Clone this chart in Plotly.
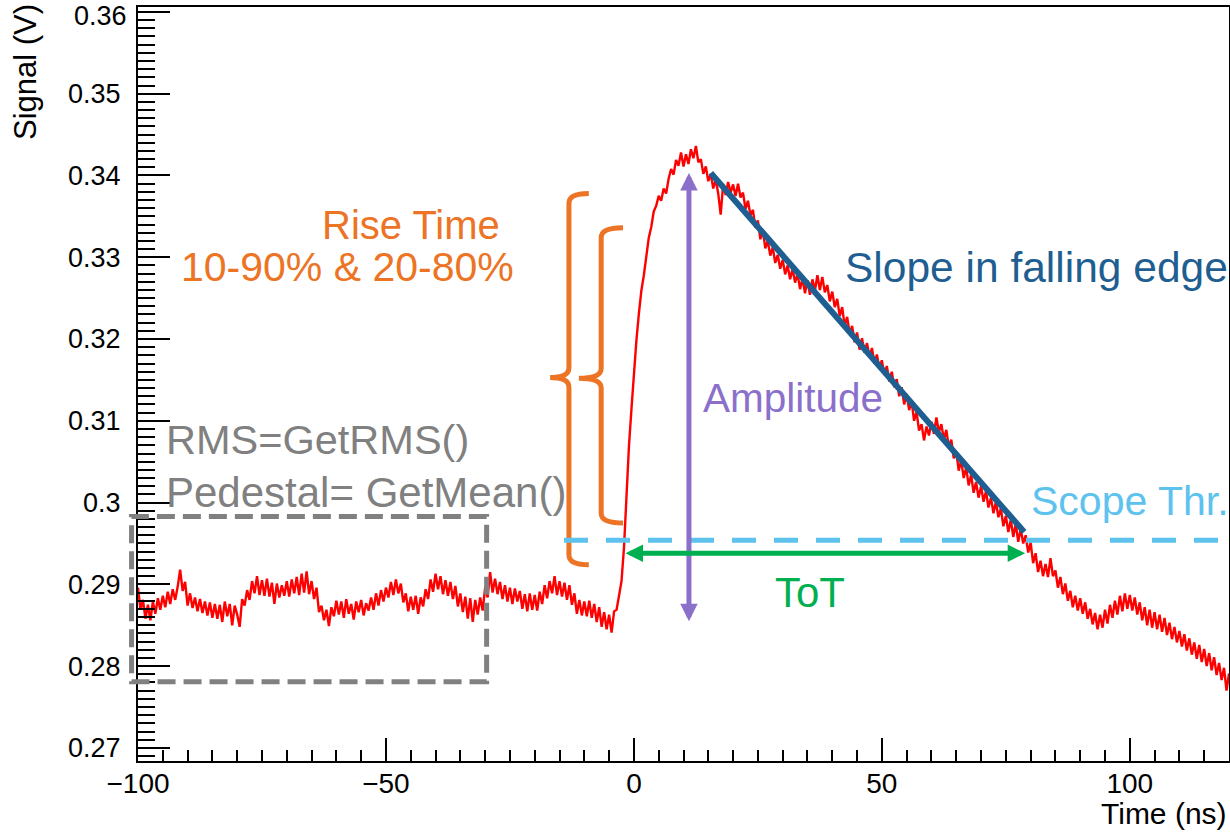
import numpy as np
import plotly.graph_objects as go

# ---------------- data ----------------
time_start_ns = -100.0
time_step_ns = 0.5
signal_mv = [
    289.6, 286.9, 288.1, 285.8, 287.5, 285.6, 287.9, 286.4, 288.3, 286.9, 288.6, 287.2, 289.1, 287.6, 289.4, 288.1, 289.7, 291.8, 289.2, 290.3,
    287.4, 288.9, 287.1, 288.4, 286.7, 288.2, 286.5, 287.9, 286.2, 287.8, 285.9, 287.6, 285.8, 287.5, 285.4, 287.9, 286.1, 287.6, 285.0, 287.4,
    286.3, 284.8, 288.2, 287.4, 289.3, 288.1, 290.4, 288.9, 291.0, 288.7, 290.5, 288.6, 290.7, 288.5, 290.2, 287.6, 290.1, 288.4, 289.9, 288.6,
    290.4, 288.5, 290.6, 288.9, 290.9, 288.7, 291.3, 289.0, 291.6, 288.8, 290.4, 288.2, 289.6, 286.6, 287.4, 285.6, 286.9, 284.9, 287.2, 286.1,
    288.0, 286.3, 287.9, 285.9, 288.2, 286.4, 287.6, 285.7, 287.9, 286.6, 288.1, 286.2, 287.7, 286.8, 288.4, 286.9, 288.9, 287.4, 289.3, 287.9,
    289.6, 288.4, 290.3, 288.7, 290.6, 288.9, 290.1, 287.8, 288.9, 286.7, 288.5, 286.9, 288.6, 286.4, 288.4, 287.3, 289.4, 288.2, 290.6, 289.1,
    291.3, 289.4, 291.0, 288.8, 290.5, 288.6, 290.3, 288.2, 289.8, 287.3, 288.9, 286.6, 288.5, 285.8, 288.3, 285.4, 288.1, 286.3, 288.4, 286.8,
    289.6, 288.4, 291.5, 289.0, 290.7, 288.8, 290.3, 288.2, 289.9, 287.9, 289.6, 287.6, 289.5, 287.9, 289.2, 287.0, 288.8, 286.7, 288.9, 286.9,
    288.7, 286.8, 289.1, 287.6, 289.9, 288.3, 290.4, 288.9, 291.0, 288.7, 290.4, 288.5, 290.2, 288.1, 289.9, 287.5, 288.9, 286.4, 288.1, 286.2,
    287.9, 286.1, 288.0, 285.9, 287.6, 285.4, 287.2, 284.8, 286.6, 284.5, 286.3, 284.1, 286.7, 286.9, 288.6, 290.4, 294.5, 301.3, 306.9, 311.4,
    316.0, 319.8, 323.1, 325.9, 327.8, 329.9, 332.4, 333.7, 335.6, 336.3, 337.5, 336.9, 338.4, 337.8, 339.6, 340.8, 340.1, 341.9, 341.2, 342.8,
    341.1, 342.6, 341.4, 343.2, 342.1, 343.6, 341.6, 342.0, 340.2, 341.1, 339.3, 340.2, 338.4, 339.5, 337.8, 335.2, 338.9, 337.6, 339.2, 337.9,
    338.9, 337.5, 339.0, 337.3, 337.9, 335.9, 336.9, 335.1, 335.8, 333.6, 334.5, 332.2, 333.3, 331.1, 332.0, 330.2, 331.2, 329.3, 330.3, 328.6,
    329.7, 327.9, 329.0, 327.3, 328.6, 326.9, 328.0, 326.1, 327.4, 325.6, 327.2, 325.4, 327.3, 325.9, 327.8, 326.0, 327.6, 325.7, 326.6, 324.6,
    325.8, 323.9, 324.9, 322.8, 323.9, 321.6, 322.7, 320.7, 321.6, 319.6, 320.8, 318.7, 320.1, 318.3, 319.5, 317.8, 318.9, 317.0, 318.1, 316.4,
    317.4, 315.6, 316.7, 314.8, 316.0, 314.1, 315.1, 313.0, 314.1, 312.0, 313.3, 311.3, 312.4, 310.0, 311.1, 308.8, 309.6, 307.6, 309.3, 308.2,
    309.9, 308.4, 310.4, 308.6, 309.6, 307.7, 308.9, 306.8, 307.7, 305.4, 306.2, 303.9, 305.2, 303.0, 304.3, 302.1, 303.4, 301.2, 302.5, 300.6,
    302.0, 300.1, 301.4, 299.4, 300.6, 298.7, 300.1, 298.2, 299.3, 297.1, 298.4, 296.4, 297.9, 295.8, 297.4, 295.2, 296.8, 295.0, 296.0, 293.9,
    295.1, 292.6, 293.8, 291.5, 292.9, 291.0, 292.5, 290.9, 293.2, 291.0, 291.7, 289.6, 290.9, 288.8, 290.1, 288.0, 289.2, 287.2, 288.6, 286.8,
    288.3, 286.4, 287.8, 285.8, 287.0, 285.1, 286.5, 284.5, 286.3, 284.7, 286.9, 285.2, 287.5, 285.9, 288.0, 286.3, 288.6, 286.7, 288.9, 287.0,
    288.7, 286.8, 288.4, 286.3, 287.8, 285.6, 287.2, 285.0, 286.9, 284.7, 286.6, 284.5, 286.3, 284.2, 285.9, 283.8, 285.3, 283.3, 284.8, 282.9,
    284.3, 282.4, 283.9, 281.9, 283.4, 281.4, 282.9, 280.9, 282.6, 280.5, 282.1, 280.0, 281.6, 279.5, 281.1, 278.9, 280.4, 278.3, 279.8, 277.0, 279.1,
]

x_range = [-100, 120]
y_range = [0.2684, 0.3606]
x_tick_vals = [-100, -50, 0, 50, 100]
x_tick_text = ["\u2212100", "\u221250", "0", "50", "100"]
y_tick_vals = [0.27, 0.28, 0.29, 0.30, 0.31, 0.32, 0.33, 0.34, 0.35, 0.36]
y_tick_text = ["0.27", "0.28", "0.29", "0.3", "0.31", "0.32", "0.33", "0.34", "0.35", "0.36"]

# annotation geometry (data units: ns, V)
threshold_v = 0.2954
threshold_t_start = -14.1
pedestal_window_t = [-101.3, -29.7]
pedestal_window_v = [0.2781, 0.2983]
amplitude_t = 11.1
amplitude_v = [0.2853, 0.3403]
tot_v = 0.2938
tot_t = [-2.0, 78.9]
slope_t = [15.5, 78.7]
slope_v = [0.3403, 0.2964]
brace_big = dict(t_end=-9.1, t_stem=-13.1, t_tip=-16.9, v_top=0.3378, v_mid=0.3153, v_bot=0.2924)
brace_small = dict(t_end=-2.2, t_stem=-6.6, t_tip=-11.1, v_top=0.3336, v_mid=0.3152, v_bot=0.2975)

# colours
ORANGE = "#EC7424"
PURPLE = "#8B70CB"
DARKBLUE = "#1F5E91"
LIGHTBLUE = "#5DC2EE"
GREEN = "#00B050"
GRAY = "#808080"
FONT = "Liberation Sans, Arial, sans-serif"

time_ns = time_start_ns + time_step_ns * np.arange(len(signal_mv))
signal_v = np.array(signal_mv) / 1000.0

fig = go.Figure()
fig.add_trace(go.Scatter(x=time_ns, y=signal_v, mode="lines",
                         line=dict(color="#FF0000", width=2.4), hoverinfo="skip"))


def brace_path(t_end, t_stem, t_tip, v_top, v_mid, v_bot, rv=0.0012):
    return (f"M {t_end},{v_top} Q {t_stem},{v_top} {t_stem},{v_top - rv} "
            f"L {t_stem},{v_mid + rv} Q {t_stem},{v_mid} {t_tip},{v_mid} "
            f"Q {t_stem},{v_mid} {t_stem},{v_mid - rv} "
            f"L {t_stem},{v_bot + rv} Q {t_stem},{v_bot} {t_end},{v_bot}")


shapes = []
for b in (brace_big, brace_small):
    shapes.append(dict(type="path", xref="x", yref="y", path=brace_path(**b),
                       line=dict(color=ORANGE, width=5), layer="above"))
shapes.append(dict(type="line", xref="x", yref="y", x0=threshold_t_start, x1=x_range[1],
                   y0=threshold_v, y1=threshold_v,
                   line=dict(color=LIGHTBLUE, width=5, dash="24px,18px"), layer="above"))
shapes.append(dict(type="line", xref="x", yref="y", x0=slope_t[0], x1=slope_t[1],
                   y0=slope_v[0], y1=slope_v[1],
                   line=dict(color=DARKBLUE, width=6), layer="above"))


def xp(t):
    return (t - x_range[0]) / (x_range[1] - x_range[0])


def yp(v):
    return (v - y_range[0]) / (y_range[1] - y_range[0])


shapes.append(dict(type="rect", xref="paper", yref="paper",
                   x0=xp(pedestal_window_t[0]), x1=xp(pedestal_window_t[1]),
                   y0=yp(pedestal_window_v[0]), y1=yp(pedestal_window_v[1]),
                   line=dict(color=GRAY, width=5, dash="18px,8px"), layer="above"))

annotations = []
# arrows
for (x, y, ax, ay, col) in [(amplitude_t, amplitude_v[1], amplitude_t, amplitude_v[0], PURPLE),
                            (tot_t[1], tot_v, tot_t[0], tot_v, GREEN)]:
    annotations.append(dict(x=x, y=y, ax=ax, ay=ay,
                            xref="x", yref="y", axref="x", ayref="y", text="", showarrow=True,
                            arrowhead=2, arrowsize=0.7, arrowwidth=5, arrowcolor=col,
                            arrowside="end+start", startarrowhead=2, startarrowsize=0.7,
                            standoff=0, startstandoff=0))


def label(text, t, v, color, size, xanchor="center"):
    return dict(x=t, y=v, xref="x", yref="y", text=text, showarrow=False,
                xanchor=xanchor, yanchor="middle",
                font=dict(family=FONT, size=size, color=color))


annotations += [
    label("Rise Time", -45.0, 0.33400, ORANGE, 40),
    label("10-90% &amp; 20-80%", -57.7, 0.32880, ORANGE, 41),
    label("Slope in falling edge", 81.1, 0.32870, DARKBLUE, 42.5),
    label("Amplitude", 13.5, 0.31280, PURPLE, 40.5, "left"),
    label("Scope Thr.", 79.7, 0.30020, LIGHTBLUE, 41, "left"),
    label("ToT", 35.5, 0.28895, GREEN, 42),
    label("RMS=GetRMS()", -94.8, 0.30766, GRAY, 41.5, "left"),
    label("Pedestal= GetMean()", -94.8, 0.30118, GRAY, 42, "left"),
]

# the topmost tick label sits against the page edge: draw it as a text kept inside the page
top_label = y_tick_text[-1]
y_tick_text_axis = y_tick_text[:-1] + [""]
annotations.append(dict(x=-10 / 1091, y=1 + 7 / 754, xref="paper", yref="paper", text=top_label,
                        showarrow=False, xanchor="right", yanchor="top", borderpad=0,
                        font=dict(family=FONT, size=27, color="black")))

# axis titles
annotations.append(dict(x=-0.1036, y=1.0066, xref="paper", yref="paper", text="Signal (V)",
                        textangle=-90, showarrow=False, xanchor="center", yanchor="top",
                        font=dict(family=FONT, size=31, color="black")))
annotations.append(dict(x=1.0, y=-0.0941, xref="paper", yref="paper", text="Time (ns)",
                        showarrow=False, xanchor="right", yanchor="bottom",
                        font=dict(family=FONT, size=30, color="black")))

fig.update_layout(
    width=1230, height=832,
    margin=dict(l=138, r=1, t=7, b=71, autoexpand=False),
    plot_bgcolor="white", paper_bgcolor="white", showlegend=False,
    font=dict(family=FONT, color="black"),
    shapes=shapes, annotations=annotations,
    xaxis=dict(range=x_range, tickmode="array", tickvals=x_tick_vals, ticktext=x_tick_text,
               ticks="inside", ticklen=23, tickwidth=1.5, tickcolor="black",
               showline=True, linecolor="black", linewidth=2, mirror=True,
               showgrid=False, zeroline=False, tickfont=dict(size=28, family=FONT),
               ticklabeloverflow="allow", ticklabelstandoff=-4,
               minor=dict(tickmode="linear", tick0=-100, dtick=5, ticks="inside", ticklen=11,
                          tickwidth=1.5, tickcolor="black", showgrid=False)),
    yaxis=dict(range=y_range, tickmode="array", tickvals=y_tick_vals, ticktext=y_tick_text_axis,
               ticks="inside", ticklen=32, tickwidth=1.5, tickcolor="black",
               showline=True, linecolor="black", linewidth=2, mirror=True,
               showgrid=False, zeroline=False, tickfont=dict(size=27, family=FONT),
               ticklabelstandoff=10, ticklabeloverflow="allow",
               minor=dict(tickmode="linear", tick0=0.27, dtick=0.001, ticks="inside", ticklen=17,
                          tickwidth=1.5, tickcolor="black", showgrid=False)),
)

fig.write_html("out.html", config={"displayModeBar": False},
               post_script="document.body.style.margin='0px';")
